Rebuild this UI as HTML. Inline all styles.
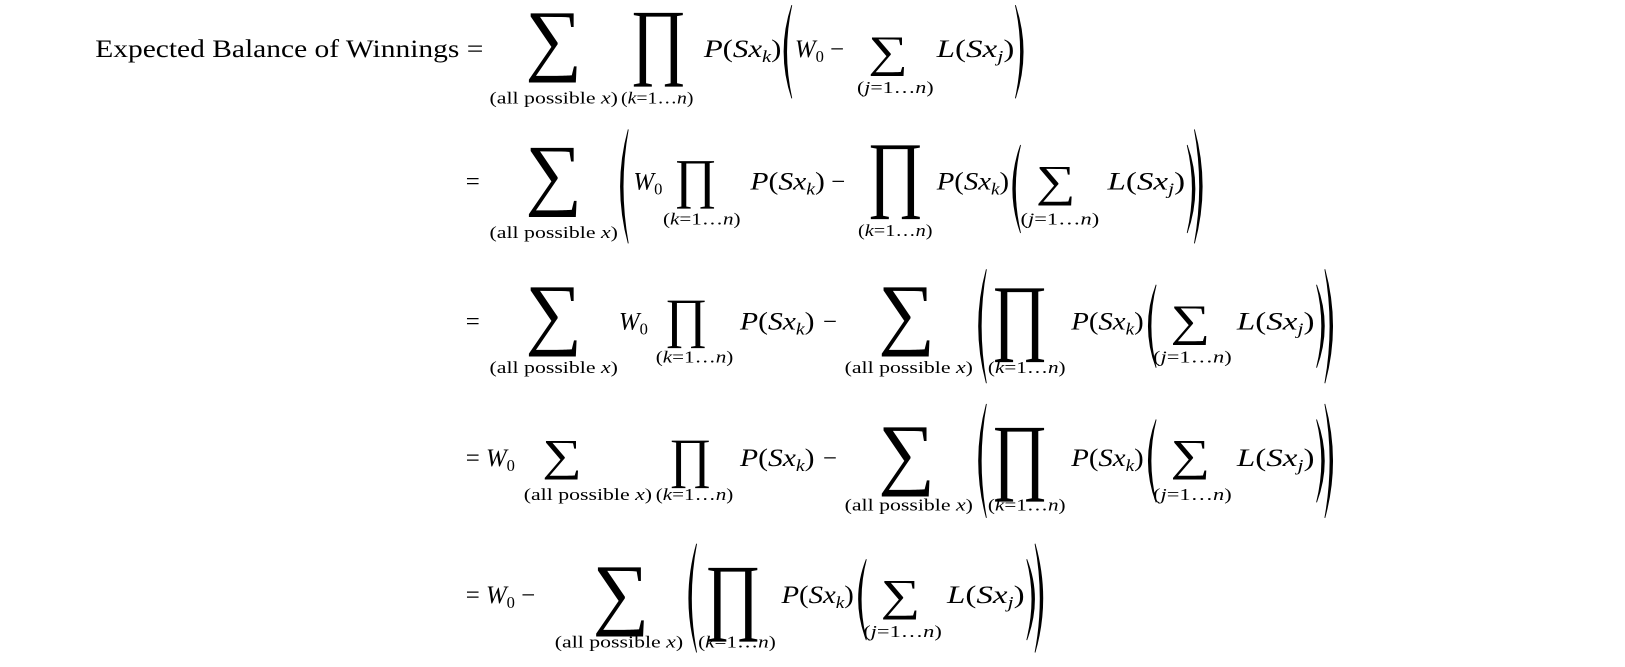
<!DOCTYPE html>
<html><head><meta charset="utf-8"><style>
html,body{margin:0;padding:0;background:#fff;}
svg{display:block;}
text{font-family:"Liberation Serif",serif;fill:#000;}
.i{font-style:italic;}
.op{font-family:"Liberation Serif","DejaVu Serif",serif;}
.p{fill:#000;stroke:#000;stroke-width:0.8;}
</style></head><body>
<svg width="1625" height="667" viewBox="0 0 1570 644" preserveAspectRatio="none" xmlns="http://www.w3.org/2000/svg">
<!-- Line 1 -->
<text x="92" y="55" font-size="24" textLength="375" lengthAdjust="spacingAndGlyphs">Expected  Balance  of  Winnings =</text>
<text class="op" x="535" y="63" font-size="77" text-anchor="middle">∑</text>
<text x="535" y="100" font-size="16" text-anchor="middle" textLength="124" lengthAdjust="spacingAndGlyphs">(all possible <tspan class="i">x</tspan>)</text>
<text class="op" font-size="82" text-anchor="middle" transform="translate(636,66) scale(0.81,1)">∏</text>
<text x="635" y="100" font-size="16" text-anchor="middle" textLength="70" lengthAdjust="spacingAndGlyphs">(<tspan class="i">k</tspan>=1…<tspan class="i">n</tspan>)</text>
<text x="680" y="55" font-size="24" textLength="75" lengthAdjust="spacingAndGlyphs"><tspan class="i">P</tspan>(<tspan class="i">Sx</tspan><tspan class="i" font-size="16" dy="5">k</tspan><tspan dy="-5">)</tspan></text>
<path class="p" d="M765 5 Q750 50 765 95 Q755 50 765 5Z"/>
<text x="768" y="55" font-size="24"><tspan class="i">W</tspan><tspan font-size="16" dy="5">0</tspan><tspan dy="-5"> −</tspan></text>
<text class="op" font-size="43" text-anchor="middle" transform="translate(858,64) scale(1.25,1)">∑</text>
<text x="865" y="90" font-size="16" text-anchor="middle" textLength="74" lengthAdjust="spacingAndGlyphs">(<tspan class="i">j</tspan>=1…<tspan class="i">n</tspan>)</text>
<text x="905" y="55" font-size="24" textLength="75" lengthAdjust="spacingAndGlyphs"><tspan class="i">L</tspan>(<tspan class="i">Sx</tspan><tspan class="i" font-size="16" dy="5">j</tspan><tspan dy="-5">)</tspan></text>
<path class="p" d="M981 5 Q996 50 981 95 Q991 50 981 5Z"/>

<!-- Line 2 -->
<text x="450" y="183" font-size="24">=</text>
<text class="op" x="535" y="193" font-size="77" text-anchor="middle">∑</text>
<text x="535" y="230" font-size="16" text-anchor="middle" textLength="124" lengthAdjust="spacingAndGlyphs">(all possible <tspan class="i">x</tspan>)</text>
<path class="p" d="M607 125 Q592 180 607 235 Q597 180 607 125Z"/>
<text x="612" y="183" font-size="24"><tspan class="i">W</tspan><tspan font-size="16" dy="5">0</tspan></text>
<text class="op" font-size="53" text-anchor="middle" transform="translate(672,190) scale(0.95,1)">∏</text>
<text x="678" y="217" font-size="16" text-anchor="middle" textLength="75" lengthAdjust="spacingAndGlyphs">(<tspan class="i">k</tspan>=1…<tspan class="i">n</tspan>)</text>
<text x="725" y="183" font-size="24" textLength="72" lengthAdjust="spacingAndGlyphs"><tspan class="i">P</tspan>(<tspan class="i">Sx</tspan><tspan class="i" font-size="16" dy="5">k</tspan><tspan dy="-5">)</tspan></text>
<text x="803" y="183" font-size="24">−</text>
<text class="op" font-size="82" text-anchor="middle" transform="translate(865,194) scale(0.81,1)">∏</text>
<text x="865" y="228" font-size="16" text-anchor="middle" textLength="72" lengthAdjust="spacingAndGlyphs">(<tspan class="i">k</tspan>=1…<tspan class="i">n</tspan>)</text>
<text x="905" y="183" font-size="24" textLength="70" lengthAdjust="spacingAndGlyphs"><tspan class="i">P</tspan>(<tspan class="i">Sx</tspan><tspan class="i" font-size="16" dy="5">k</tspan><tspan dy="-5">)</tspan></text>
<path class="p" d="M986 140 Q971 182 986 225 Q976 182 986 140Z"/>
<text class="op" font-size="43" text-anchor="middle" transform="translate(1020,189) scale(1.25,1)">∑</text>
<text x="1024" y="217" font-size="16" text-anchor="middle" textLength="76" lengthAdjust="spacingAndGlyphs">(<tspan class="i">j</tspan>=1…<tspan class="i">n</tspan>)</text>
<text x="1070" y="183" font-size="24" textLength="75" lengthAdjust="spacingAndGlyphs"><tspan class="i">L</tspan>(<tspan class="i">Sx</tspan><tspan class="i" font-size="16" dy="5">j</tspan><tspan dy="-5">)</tspan></text>
<path class="p" d="M1147 140 Q1162 182 1147 225 Q1157 182 1147 140Z"/>
<path class="p" d="M1154 125 Q1169 180 1154 235 Q1164 180 1154 125Z"/>

<!-- Line 3 -->
<text x="450" y="318" font-size="24">=</text>
<text class="op" x="535" y="328" font-size="77" text-anchor="middle">∑</text>
<text x="535" y="360" font-size="16" text-anchor="middle" textLength="124" lengthAdjust="spacingAndGlyphs">(all possible <tspan class="i">x</tspan>)</text>
<text x="598" y="318" font-size="24"><tspan class="i">W</tspan><tspan font-size="16" dy="5">0</tspan></text>
<text class="op" font-size="53" text-anchor="middle" transform="translate(663,325) scale(0.95,1)">∏</text>
<text x="671" y="350" font-size="16" text-anchor="middle" textLength="75" lengthAdjust="spacingAndGlyphs">(<tspan class="i">k</tspan>=1…<tspan class="i">n</tspan>)</text>
<text x="715" y="318" font-size="24" textLength="72" lengthAdjust="spacingAndGlyphs"><tspan class="i">P</tspan>(<tspan class="i">Sx</tspan><tspan class="i" font-size="16" dy="5">k</tspan><tspan dy="-5">)</tspan></text>
<text x="795" y="318" font-size="24">−</text>
<text class="op" x="876" y="328" font-size="77" text-anchor="middle">∑</text>
<text x="878" y="360" font-size="16" text-anchor="middle" textLength="124" lengthAdjust="spacingAndGlyphs">(all possible <tspan class="i">x</tspan>)</text>
<path class="p" d="M953 260 Q938 315 953 370 Q943 315 953 260Z"/>
<text class="op" font-size="82" text-anchor="middle" transform="translate(985,332) scale(0.81,1)">∏</text>
<text x="992" y="360" font-size="16" text-anchor="middle" textLength="75" lengthAdjust="spacingAndGlyphs">(<tspan class="i">k</tspan>=1…<tspan class="i">n</tspan>)</text>
<text x="1035" y="318" font-size="24" textLength="70" lengthAdjust="spacingAndGlyphs"><tspan class="i">P</tspan>(<tspan class="i">Sx</tspan><tspan class="i" font-size="16" dy="5">k</tspan><tspan dy="-5">)</tspan></text>
<path class="p" d="M1117 275 Q1102 315 1117 355 Q1107 315 1117 275Z"/>
<text class="op" font-size="43" text-anchor="middle" transform="translate(1150,324) scale(1.25,1)">∑</text>
<text x="1152" y="350" font-size="16" text-anchor="middle" textLength="76" lengthAdjust="spacingAndGlyphs">(<tspan class="i">j</tspan>=1…<tspan class="i">n</tspan>)</text>
<text x="1195" y="318" font-size="24" textLength="75" lengthAdjust="spacingAndGlyphs"><tspan class="i">L</tspan>(<tspan class="i">Sx</tspan><tspan class="i" font-size="16" dy="5">j</tspan><tspan dy="-5">)</tspan></text>
<path class="p" d="M1272 275 Q1287 315 1272 355 Q1282 315 1272 275Z"/>
<path class="p" d="M1280 260 Q1295 315 1280 370 Q1290 315 1280 260Z"/>

<!-- Line 4 -->
<text x="450" y="450" font-size="24">= <tspan class="i">W</tspan><tspan font-size="16" dy="5">0</tspan></text>
<text class="op" font-size="43" text-anchor="middle" transform="translate(543,454) scale(1.25,1)">∑</text>
<text x="568" y="483" font-size="16" text-anchor="middle" textLength="124" lengthAdjust="spacingAndGlyphs">(all possible <tspan class="i">x</tspan>)</text>
<text class="op" font-size="53" text-anchor="middle" transform="translate(667,460) scale(0.95,1)">∏</text>
<text x="671" y="483" font-size="16" text-anchor="middle" textLength="75" lengthAdjust="spacingAndGlyphs">(<tspan class="i">k</tspan>=1…<tspan class="i">n</tspan>)</text>
<text x="715" y="450" font-size="24" textLength="72" lengthAdjust="spacingAndGlyphs"><tspan class="i">P</tspan>(<tspan class="i">Sx</tspan><tspan class="i" font-size="16" dy="5">k</tspan><tspan dy="-5">)</tspan></text>
<text x="795" y="450" font-size="24">−</text>
<text class="op" x="876" y="463" font-size="77" text-anchor="middle">∑</text>
<text x="878" y="493" font-size="16" text-anchor="middle" textLength="124" lengthAdjust="spacingAndGlyphs">(all possible <tspan class="i">x</tspan>)</text>
<path class="p" d="M953 390 Q938 445 953 500 Q943 445 953 390Z"/>
<text class="op" font-size="82" text-anchor="middle" transform="translate(985,467) scale(0.81,1)">∏</text>
<text x="992" y="493" font-size="16" text-anchor="middle" textLength="75" lengthAdjust="spacingAndGlyphs">(<tspan class="i">k</tspan>=1…<tspan class="i">n</tspan>)</text>
<text x="1035" y="450" font-size="24" textLength="70" lengthAdjust="spacingAndGlyphs"><tspan class="i">P</tspan>(<tspan class="i">Sx</tspan><tspan class="i" font-size="16" dy="5">k</tspan><tspan dy="-5">)</tspan></text>
<path class="p" d="M1117 405 Q1102 445 1117 485 Q1107 445 1117 405Z"/>
<text class="op" font-size="43" text-anchor="middle" transform="translate(1150,454) scale(1.25,1)">∑</text>
<text x="1152" y="483" font-size="16" text-anchor="middle" textLength="76" lengthAdjust="spacingAndGlyphs">(<tspan class="i">j</tspan>=1…<tspan class="i">n</tspan>)</text>
<text x="1195" y="450" font-size="24" textLength="75" lengthAdjust="spacingAndGlyphs"><tspan class="i">L</tspan>(<tspan class="i">Sx</tspan><tspan class="i" font-size="16" dy="5">j</tspan><tspan dy="-5">)</tspan></text>
<path class="p" d="M1272 405 Q1287 445 1272 485 Q1282 445 1272 405Z"/>
<path class="p" d="M1280 390 Q1295 445 1280 500 Q1290 445 1280 390Z"/>

<!-- Line 5 -->
<text x="450" y="582" font-size="24">= <tspan class="i">W</tspan><tspan font-size="16" dy="5">0</tspan><tspan dy="-5"> −</tspan></text>
<text class="op" x="600" y="598" font-size="77" text-anchor="middle">∑</text>
<text x="598" y="625" font-size="16" text-anchor="middle" textLength="124" lengthAdjust="spacingAndGlyphs">(all possible <tspan class="i">x</tspan>)</text>
<path class="p" d="M673 525 Q658 578 673 630 Q663 578 673 525Z"/>
<text class="op" font-size="82" text-anchor="middle" transform="translate(708,602) scale(0.81,1)">∏</text>
<text x="712" y="625" font-size="16" text-anchor="middle" textLength="75" lengthAdjust="spacingAndGlyphs">(<tspan class="i">k</tspan>=1…<tspan class="i">n</tspan>)</text>
<text x="755" y="582" font-size="24" textLength="70" lengthAdjust="spacingAndGlyphs"><tspan class="i">P</tspan>(<tspan class="i">Sx</tspan><tspan class="i" font-size="16" dy="5">k</tspan><tspan dy="-5">)</tspan></text>
<path class="p" d="M837 540 Q822 578 837 618 Q827 578 837 540Z"/>
<text class="op" font-size="43" text-anchor="middle" transform="translate(870,589) scale(1.25,1)">∑</text>
<text x="872" y="615" font-size="16" text-anchor="middle" textLength="76" lengthAdjust="spacingAndGlyphs">(<tspan class="i">j</tspan>=1…<tspan class="i">n</tspan>)</text>
<text x="915" y="582" font-size="24" textLength="75" lengthAdjust="spacingAndGlyphs"><tspan class="i">L</tspan>(<tspan class="i">Sx</tspan><tspan class="i" font-size="16" dy="5">j</tspan><tspan dy="-5">)</tspan></text>
<path class="p" d="M992 540 Q1007 578 992 618 Q1002 578 992 540Z"/>
<path class="p" d="M1000 525 Q1015 578 1000 630 Q1010 578 1000 525Z"/>
</svg>
</body></html>
